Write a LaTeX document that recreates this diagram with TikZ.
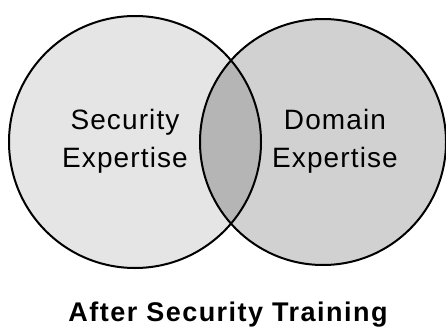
\documentclass[tikz,border=0pt]{standalone}
\usepackage{fontspec}
\setmainfont{Liberation Sans}
\usetikzlibrary{positioning}
\definecolor{secfill}{gray}{0.90}
\definecolor{domfill}{gray}{0.82}
\definecolor{bothfill}{gray}{0.71}

\begin{document}
\begin{tikzpicture}[x=1pt, y=1pt]
\tikzstyle{every node}=[inner sep=0pt, anchor=base,
                        font=\fontsize{28}{34}\selectfont\addfontfeatures{LetterSpace=4}]
\tikzstyle{title}=[font=\bfseries\fontsize{27}{32}\selectfont\addfontfeatures{LetterSpace=5.5}]
\useasboundingbox (0,0) rectangle (446,327);
\fill[white] (0,0) rectangle (446,327);
% the two sets
\fill[secfill] (135,185) circle (126);
\fill[domfill] (323,185) circle (123);
\begin{scope}
\clip (135,185) circle (126);
\fill[bothfill] (323,185) circle (123);
\end{scope}
\draw[line width=2pt] (135,185) circle (126) (323,185) circle (123);
\node (sec) at (125,197) {Security};
\node (secx) at (125,160) {Expertise};
\node (dom) at (335,197) {Domain};
\node (domx) at (335,160) {Expertise};
\node[title] (after) at (228,6) {After Security Training};
\end{tikzpicture}
\end{document}
